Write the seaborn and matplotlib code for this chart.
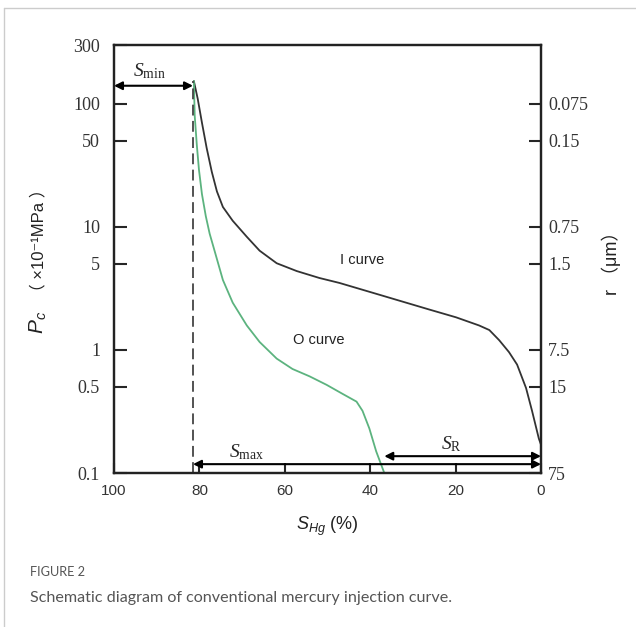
import matplotlib
matplotlib.use("Agg")
import matplotlib.pyplot as plt
import seaborn as sns
import pandas as pd
from matplotlib.lines import Line2D

# I curve: mercury injection
i_shg = [81.3, 80.4, 79.4, 78.3, 77.1, 75.9, 74.5, 72.2, 68.9, 65.9, 61.9, 57.2, 51.9, 47.2,
         37.9, 26.2, 19.9, 14.5, 12.1, 9.8, 7.5, 5.6, 3.5, 2.1, 0.5, 0.0]
i_pc = [153, 110, 70, 43.7, 28, 19.4, 14.5, 11.2, 8.3, 6.4, 5.06, 4.37, 3.84, 3.5,
        2.81, 2.13, 1.84, 1.58, 1.45, 1.20, 0.96, 0.76, 0.49, 0.32, 0.19, 0.17]
# O curve: mercury withdrawal
o_shg = [81.3, 81.1, 80.6, 80.1, 79.4, 78.5, 77.6, 76.4, 74.5, 72.2, 68.9, 65.9, 61.9, 58.2,
         54.2, 50.2, 46.5, 43.2, 41.8, 40.2, 38.6, 36.7]
o_pc = [153, 80, 46, 29, 18.4, 12.2, 8.8, 6.3, 3.7, 2.42, 1.58, 1.16, 0.85, 0.70,
        0.61, 0.52, 0.44, 0.38, 0.32, 0.23, 0.15, 0.10]

pc_ticks = [300, 100, 50, 10, 5, 1, 0.5, 0.1]
pc_labels = ["300", "100", "50", "10", "5", "1", "0.5", "0.1"]
r_ticks = [100, 50, 10, 5, 1, 0.5, 0.1]
r_labels = ["0.075", "0.15", "0.75", "1.5", "7.5", "15", "75"]
x_ticks = [100, 80, 60, 40, 20, 0]

s_min = 81.5
s_r = 36.7

sns.set_style("ticks")
plt.rcParams["mathtext.fontset"] = "custom"
plt.rcParams["mathtext.it"] = "Liberation Serif:italic"
plt.rcParams["mathtext.rm"] = "Liberation Serif"
plt.rcParams["mathtext.sf"] = "Liberation Sans:italic"
plt.rcParams["font.family"] = ["Liberation Sans", "Noto Sans CJK SC", "DejaVu Sans"]

fig = plt.figure(figsize=(6.36, 6.27), dpi=100)
ax = fig.add_axes([114 / 636, 1 - 473 / 627, 427 / 636, 428 / 627])

i_df = pd.DataFrame({"shg": i_shg, "pc": i_pc})
o_df = pd.DataFrame({"shg": o_shg, "pc": o_pc})
sns.lineplot(data=i_df, x="shg", y="pc", sort=False, color="#333333", lw=1.3, ax=ax,
             solid_joinstyle="round")
sns.lineplot(data=o_df, x="shg", y="pc", sort=False, color="#5cb37f", lw=1.3, ax=ax,
             solid_joinstyle="round")

ax.set_yscale("log")
ax.set_xlim(100, 0)
ax.set_ylim(0.1, 300)

# dashed S_min line
ax.plot([s_min, s_min], [0.1, 153], ls=(0, (6, 3)), color="#444444", lw=1.3)

# arrows
arrow = dict(arrowstyle="<|-|>", color="black", lw=1.5, mutation_scale=12, shrinkA=0, shrinkB=0)
ax.annotate("", xy=(100, 140), xytext=(s_min, 140), arrowprops=arrow)
ax.annotate("", xy=(s_min, 0.118), xytext=(0, 0.118), arrowprops=arrow)
ax.annotate("", xy=(s_r, 0.137), xytext=(0, 0.137), arrowprops=arrow)

ax.text(91.6, 185, r"$S_{\mathrm{min}}$", fontsize=14, ha="center", va="center")
ax.text(68.9, 0.148, r"$S_{\mathrm{max}}$", fontsize=14, ha="center", va="center")
ax.text(21, 0.172, r"$S_{\mathrm{R}}$", fontsize=14, ha="center", va="center")

ax.text(41.8, 5.35, "I curve", fontsize=10.5, ha="center", va="center", color="#222222")
ax.text(52.1, 1.2, "O curve", fontsize=10.5, ha="center", va="center", color="#222222")

# left axis
ax.set_yticks(pc_ticks)
ax.set_yticklabels(pc_labels, fontfamily="Liberation Serif", fontsize=13, color="#333333")
ax.minorticks_off()
ax.set_xticks(x_ticks)
ax.set_xticklabels([str(v) for v in x_ticks], fontsize=11, color="#333333")
ax.tick_params(axis="y", direction="in", length=9, width=1.5, pad=10)
ax.tick_params(axis="x", direction="in", length=7, width=1.5, pad=8)
for sp in ax.spines.values():
    sp.set_linewidth(1.6)
    sp.set_color("#222222")

ax.set_xlabel(r"$\mathsf{S_{Hg}}$ (%)", fontsize=13, color="#222222", labelpad=12)
ax.set_ylabel("")

# y label split so the full-width brackets can fall back to a CJK font
fig.text(38 / 636, 1 - 322 / 627, r"$\mathsf{P_c}$", fontsize=15, rotation=90,
         ha="center", va="center", color="#222222")
fig.text(38 / 636, 1 - 240 / 627, "（ ×10⁻¹MPa ）", fontsize=12, rotation=90,
         ha="center", va="center", color="#222222")

# right axis: pore throat radius
ax2 = ax.twinx()
ax2.set_yscale("log")
ax2.set_ylim(ax.get_ylim())
ax2.set_yticks(r_ticks)
ax2.set_yticklabels(r_labels, fontfamily="Liberation Serif", fontsize=13, color="#333333")
ax2.minorticks_off()
ax2.tick_params(axis="y", direction="in", length=9, width=1.5, pad=5)
for sp in ax2.spines.values():
    sp.set_linewidth(1.6)
    sp.set_color("#222222")
ax2.set_ylabel("r （μm）", fontsize=13, color="#222222", rotation=90, labelpad=10)

# frame lines and caption
fig.add_artist(Line2D([4 / 636, 4 / 636], [0, 1 - 8 / 627], color="#cccccc", lw=1))
fig.add_artist(Line2D([4 / 636, 1], [1 - 8 / 627, 1 - 8 / 627], color="#cccccc", lw=1))
fig.text(30 / 636, 1 - 572 / 627, "FIGURE 2", fontsize=9.2, color="#555555",
         fontfamily="Lato", va="center")
fig.text(30 / 636, 1 - 598 / 627, "Schematic diagram of conventional mercury injection curve.",
         fontsize=11.6, color="#555555", fontfamily="Lato", va="center")

fig.savefig("out.png", dpi=100)
